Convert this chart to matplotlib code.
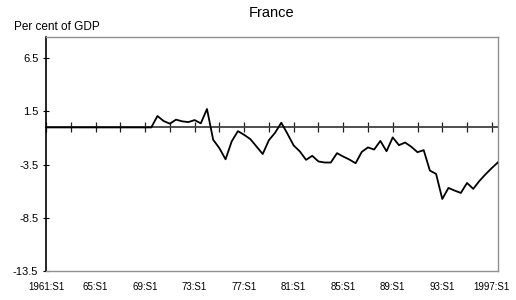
import matplotlib
matplotlib.use("Agg")
import matplotlib.pyplot as plt
import numpy as np

plt.rcParams['font.family'] = ['Liberation Sans', 'DejaVu Sans']

# Half-yearly periods 1961:S1 .. 1997:S2
periods = [f"{1961 + i // 2}:S{i % 2 + 1}" for i in range(74)]
values = [0.0] * 18 + [
    1.07, 0.60, 0.35, 0.73, 0.57, 0.50, 0.69, 0.38, 1.73, -1.16,
    -1.95, -3.00, -1.30, -0.35, -0.70, -1.10, -1.80, -2.50, -1.20, -0.50,
    0.44, -0.60, -1.70, -2.26, -3.05, -2.67, -3.20, -3.30, -3.30, -2.42,
    -2.74, -3.02, -3.37, -2.30, -1.88, -2.08, -1.27, -2.24, -0.94, -1.67,
    -1.42, -1.82, -2.33, -2.14, -4.06, -4.37, -6.73, -5.69, -5.94, -6.16,
    -5.22, -5.78, -5.03, -4.40, -3.82, -3.28,
]
x_labels = ["1961:S1", "65:S1", "69:S1", "73:S1", "77:S1", "81:S1",
            "85:S1", "89:S1", "93:S1", "1997:S1"]
y_ticks = [6.5, 1.5, -3.5, -8.5, -13.5]

fig = plt.figure(figsize=(5.16, 3.0), dpi=100)
ax = fig.add_axes([46 / 516, 1 - 271 / 300, 452 / 516, 234 / 300])

x = np.arange(len(values))
ax.plot(x, values, color='black', lw=1.3, zorder=3)

ymin, ymax = -13.5, 8.5
ax.set_xlim(0, len(values) - 1)
ax.set_ylim(ymin, ymax)

ax.set_yticks(y_ticks)
ax.set_yticklabels([f"{v:g}" for v in y_ticks])
ax.tick_params(axis='y', direction='inout', length=5, width=0.8, labelsize=8, pad=3)

ax.set_xticks(np.arange(0, len(values), 8))
ax.set_xticklabels(x_labels)
ax.tick_params(axis='x', length=0, labelsize=7, pad=8)

for side in ['top', 'right', 'bottom']:
    ax.spines[side].set_color('#909090')
    ax.spines[side].set_linewidth(1.0)
ax.spines['left'].set_color('black')
ax.spines['left'].set_linewidth(1.2)

# zero axis with crossing ticks
sec = ax.secondary_xaxis((0 - ymin) / (ymax - ymin))
sec.set_xticks(np.arange(0, len(values), 4))
sec.tick_params(axis='x', direction='inout', length=7, width=0.9,
                labeltop=False, labelbottom=False, color='#202020')
for side in ['top', 'bottom']:
    sec.spines[side].set_color('#404040')
    sec.spines[side].set_linewidth(1.3)

fig.text(272 / 516, 1 - 13 / 300, "France", ha='center', va='center', fontsize=10.5)
fig.text(14 / 516, 1 - 27 / 300, "Per cent of GDP", ha='left', va='center', fontsize=8.5)

fig.savefig("out.png", dpi=100)
